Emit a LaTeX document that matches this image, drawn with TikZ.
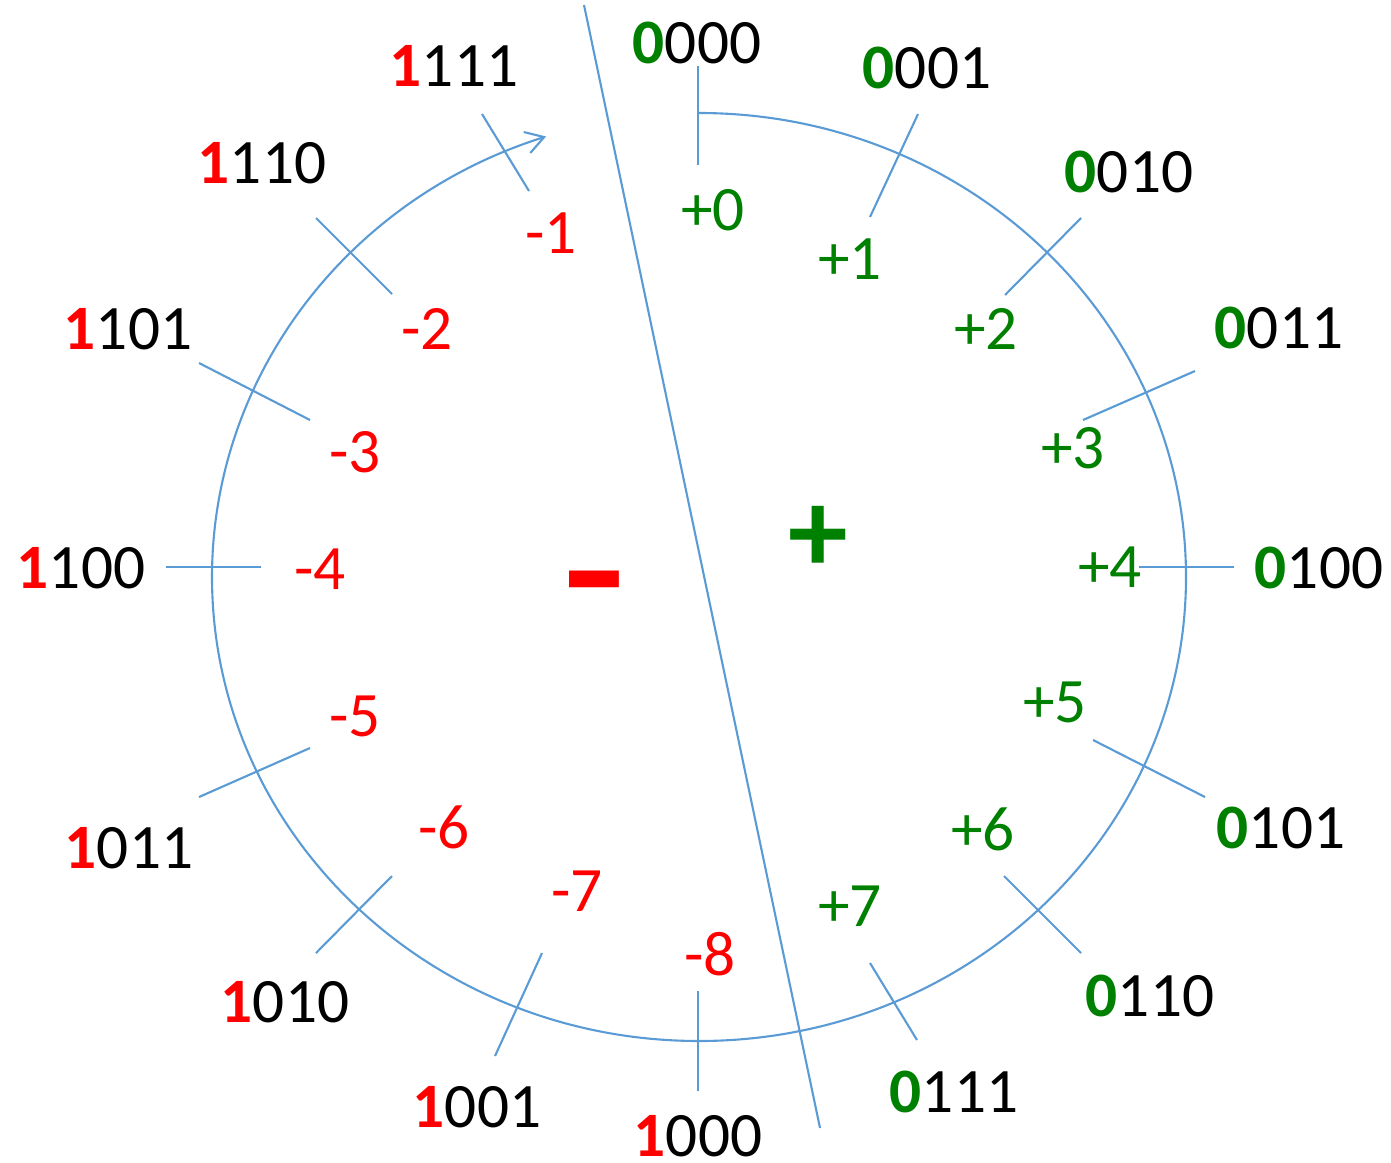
\documentclass[tikz,border=0pt]{standalone}
\usepackage{fontspec}
\setmainfont{Carlito}
\usetikzlibrary{arrows.meta}

\definecolor{tickblue}{RGB}{91,155,213}
\definecolor{posgreen}{RGB}{0,128,0}
\newcommand{\negbit}{\textcolor{red}{\bfseries 1}}
\newcommand{\posbit}{\textcolor{posgreen}{\bfseries 0}}

\begin{document}
\begin{tikzpicture}[
    x=0.1mm, y=-0.1mm,
    wire/.style={draw=tickblue, line width=0.6pt},
    bits/.style={inner sep=0pt, font=\fontsize{18}{22}\selectfont},
    val/.style={inner sep=0pt, font=\fontsize{18}{22}\selectfont},
    posval/.style={val, text=posgreen},
    negval/.style={val, text=red},
    sign/.style={inner sep=0pt, font=\fontsize{34}{40}\selectfont\bfseries}
]
    \useasboundingbox (0,0) rectangle (1391,1162);

    % Wheel
    \draw[wire, -{Straight Barb[length=1.8mm, width=2.2mm]}] (699,113)
        arc[start angle=90, end angle=-251.7, x radius=48.7mm, y radius=46.4mm];

    % Ticks
    \foreach \xa/\ya/\xb/\yb in {698/66/698/165, 918/114/870/217, 1081/218/1005/295,
        1195/371/1083/420, 1234/567/1139/567, 1205/797/1093/740, 1081/953/1004/876,
        917/1040/870/963, 698/1091/698/991, 495/1056/542/953, 316/953/392/876,
        199/797/310/748, 166/567/261/567, 199/363/310/420, 316/218/392/294, 482/114/529/191}
        \draw[wire] (\xa,\ya) -- (\xb,\yb);

    % Divider
    \coordinate (top) at (584,5);
    \coordinate (bottom) at (820,1128);
    \draw[wire] (top) -- (bottom);

    % Bit patterns
    \node[bits] (b0000) at (697,43) {\posbit000};
    \node[bits] (b0001) at (927,68) {\posbit001};
    \node[bits] (b0010) at (1129,172) {\posbit010};
    \node[bits] (b0011) at (1279,328) {\posbit011};
    \node[bits] (b0100) at (1319,568) {\posbit100};
    \node[bits] (b0101) at (1281,828) {\posbit101};
    \node[bits] (b0110) at (1150,996) {\posbit110};
    \node[bits] (b0111) at (954,1092) {\posbit111};
    \node[bits] (b1000) at (698,1136) {\negbit000};
    \node[bits] (b1001) at (477,1107) {\negbit001};
    \node[bits] (b1010) at (285,1002) {\negbit010};
    \node[bits] (b1011) at (129,848) {\negbit011};
    \node[bits] (b1100) at (81,568) {\negbit100};
    \node[bits] (b1101) at (128,329) {\negbit101};
    \node[bits] (b1110) at (262,163) {\negbit110};
    \node[bits] (b1111) at (454,66) {\negbit111};

    % Values
    \node[posval] (p0) at (713,210) {+0};
    \node[posval] (p1) at (850,259) {+1};
    \node[posval] (p2) at (986,329) {+2};
    \node[posval] (p3) at (1073,448) {+3};
    \node[posval] (p4) at (1110,567) {+4};
    \node[posval] (p5) at (1055,702) {+5};
    \node[posval] (p6) at (983,829) {+6};
    \node[posval] (p7) at (850,906) {+7};
    \node[negval] (m8) at (710,954) {-8};
    \node[negval] (m7) at (577,891) {-7};
    \node[negval] (m6) at (444,827) {-6};
    \node[negval] (m5) at (355,716) {-5};
    \node[negval] (m4) at (320,569) {-4};
    \node[negval] (m3) at (355,452) {-3};
    \node[negval] (m2) at (427,329) {-2};
    \node[negval] (m1) at (551,233) {-1};

    % Halves
    \node[sign, text=posgreen] (plus) at (818,539) {+};
    \node[sign, text=red, font=\fontsize{46}{54}\selectfont\bfseries] (minus) at (594,598) {\scalebox{1.25}[1]{-}};

\end{tikzpicture}
\end{document}
